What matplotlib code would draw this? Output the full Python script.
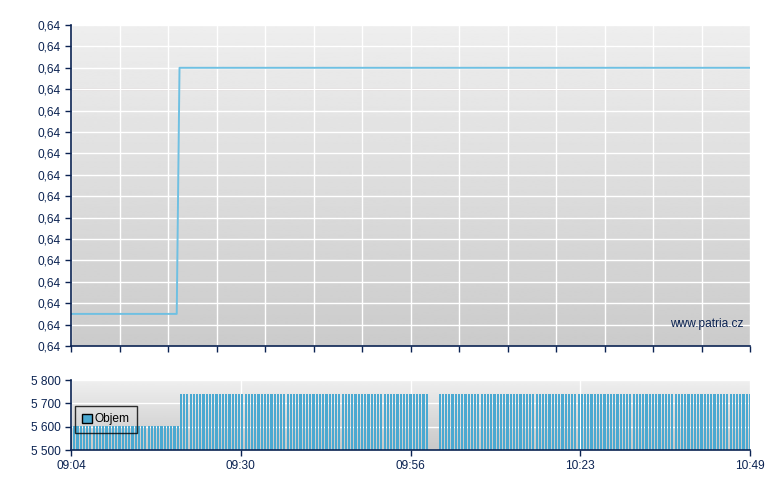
import numpy as np
import pandas as pd
import matplotlib
matplotlib.use('Agg')
import matplotlib.pyplot as plt
from matplotlib.patches import Patch

plt.rcParams['font.family'] = ['Liberation Sans', 'DejaVu Sans']

# time axis: minutes after 09:04
price_t   = [0.0, 16.35, 16.78, 105.0]
price_val = [0.63815, 0.63815, 0.63930, 0.63930]
ref_price = 0.63920

# volume bars: (start, end, value) runs, one bar every 30 s
vol_runs = [(0.0, 16.5, 5605), (17.0, 55.0, 5740), (57.0, 105.0, 5740)]
vol_step = 0.5

xtick_pos    = [0, 26.25, 52.5, 78.75, 105]
xtick_labels = ['09:04', '09:30', '09:56', '10:23', '10:49']
vol_ticks    = [5500, 5600, 5700, 5800]

navy = '#0b2352'
bar_col = '#4ba9d1'
fs = 8.6

vol_t, vol_v = [], []
for t0, t1, v in vol_runs:
    ts = np.arange(t0, t1 + 1e-9, vol_step)
    vol_t.extend(ts)
    vol_v.extend([v] * len(ts))

fig = plt.figure(figsize=(7.8, 4.9), dpi=100)
ax  = fig.add_axes([71/780, 1-346/490, 679/780, 321/490])
ax2 = fig.add_axes([71/780, 1-450/490, 679/780, 70/490])


def style_axis(a, top, bottom):
    grad = np.linspace(top, bottom, 256).reshape(-1, 1)
    a.imshow(grad, extent=[0, 1, 0, 1], transform=a.transAxes, aspect='auto',
             cmap='gray', vmin=0, vmax=255, zorder=0, interpolation='bilinear')
    for s in ['top', 'right']:
        a.spines[s].set_visible(False)
    for s in ['left', 'bottom']:
        a.spines[s].set_color(navy)
        a.spines[s].set_linewidth(1.2)
        a.spines[s].set_zorder(5)
    a.tick_params(colors=navy, labelcolor=navy, labelsize=fs, length=4,
                  width=1.0, direction='out')
    a.grid(True, color='white', lw=1.0, zorder=1)
    a.set_axisbelow(False)


style_axis(ax, 238, 203)
style_axis(ax2, 239, 200)

# price chart
ax.plot(price_t, price_val, color='#6fc0e2', lw=1.4, zorder=3)
ax.axhline(ref_price, color='#8a3a3a', lw=0.8, zorder=2)
ax.set_xlim(0, 105)
ax.set_ylim(0.6380, 0.6395)
yt = np.linspace(0.6380, 0.6395, 16)
ax.set_yticks(yt)
ax.set_yticklabels(['0,64'] * len(yt))
ax.set_xticks(np.arange(0, 105.1, 7.5))
ax.set_xticklabels([])
for gl in ax.get_xgridlines() + ax.get_ygridlines():
    gl.set_zorder(1)
ax.text(0.99, 0.07, 'www.patria.cz', transform=ax.transAxes, ha='right',
        va='center', fontsize=fs, color=navy, zorder=4)

# volume chart
ax2.bar(vol_t, vol_v, width=0.33, color=bar_col, zorder=3, align='center')
ax2.set_xlim(0, 105)
ax2.set_ylim(5500, 5800)
ax2.set_yticks(vol_ticks)
ax2.set_yticklabels([f'{v:,}'.replace(',', ' ') for v in vol_ticks])
ax2.set_xticks(xtick_pos)
ax2.set_xticklabels(xtick_labels)

leg = ax2.legend(handles=[Patch(facecolor=bar_col, edgecolor='black', label='Objem')],
                 loc='lower left', bbox_to_anchor=(0.006, 0.25), fontsize=fs,
                 frameon=True, fancybox=False, handlelength=0.8, handleheight=0.8,
                 handletextpad=0.25, borderpad=0.6, borderaxespad=0)
leg.get_frame().set_edgecolor('black')
leg.get_frame().set_facecolor('none')
leg.get_frame().set_linewidth(1.0)
leg.set_zorder(6)

fig.savefig('out.png', dpi=100)
